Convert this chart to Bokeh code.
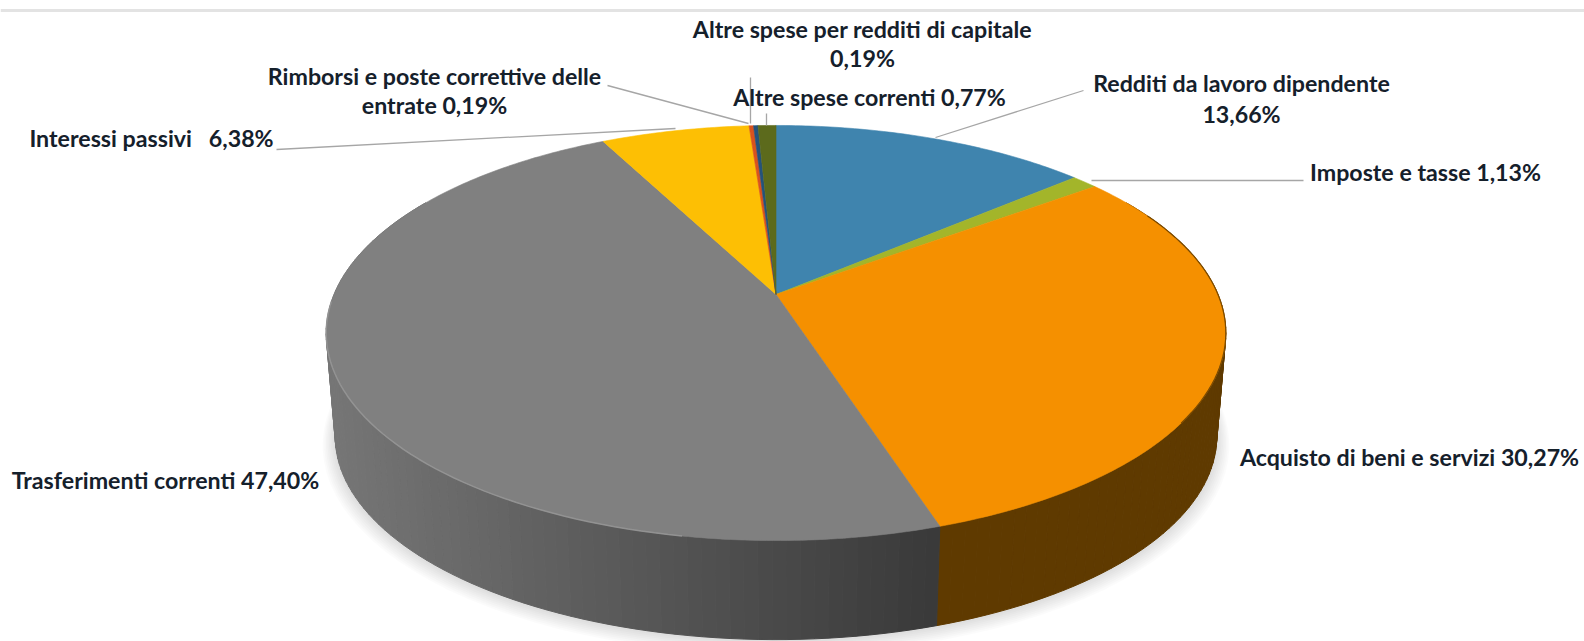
from math import sin, cos, radians, pi
from bokeh.plotting import figure
from bokeh.models import Range1d, ColumnDataSource
from bokeh.core.properties import value
from bokeh.embed import file_html
from bokeh.resources import INLINE

# Data: clockwise from 12 o'clock
categories = ["Redditi da lavoro dipendente", "Imposte e tasse", "Acquisto di beni e servizi",
              "Trasferimenti correnti", "Interessi passivi", "Rimborsi e poste correttive delle entrate",
              "Altre spese per redditi di capitale", "Altre spese correnti"]
shares = [13.66, 1.13, 30.27, 47.40, 6.38, 0.19, 0.19, 0.77]
top_colors = ["#3F84AE", "#A3B52A", "#F59000", "#808080", "#FDBF04", "#D9531E", "#25537C", "#5C6A1C"]

# Label lines (text, x, y, align)
label_text = ["Altre spese per redditi di capitale", "0,19%", "Altre spese correnti 0,77%",
              "Rimborsi e poste correttive delle", "entrate 0,19%", "Interessi passivi\u00a0\u00a0 6,38%",
              "Redditi da lavoro dipendente", "13,66%", "Imposte e tasse 1,13%",
              "Acquisto di beni e servizi 30,27%", "Trasferimenti correnti 47,40%"]
label_x = [862, 862, 869, 434, 434, 151, 1241, 1241, 1425, 1409, 165]
label_y = [28.5, 57.5, 96, 75, 104, 137.5, 82.5, 113.5, 171, 456.5, 479]

# Leader lines
lead_x = [[607, 748], [750, 750], [766, 766], [1083, 935], [1091, 1303], [276, 675]]
lead_y = [[85, 123], [77, 123], [113, 125], [90, 137], [180, 180], [149, 128]]

# Perspective of the pie
CX, APEX_Y, A, B, K = 775.5, 294.0, 200.4, 442.0, 0.1855
DEPTH, BASE_S = 104.0, 0.98

def top_pt(deg):
    t = radians(deg)
    X, Y = sin(t), cos(t)
    w = 1 + K * Y
    return CX + B * X / w, APEX_Y - A * Y / w

def base_pt(deg, s=BASE_S, dy=DEPTH):
    x, y = top_pt(deg)
    return CX + (x - CX) * s, APEX_Y + dy + (y - APEX_Y) * s

def lerp_hex(c1, c2, f):
    a = [int(c1[i:i + 2], 16) for i in (1, 3, 5)]
    b = [int(c2[i:i + 2], 16) for i in (1, 3, 5)]
    return "#%02x%02x%02x" % tuple(round(u + (v - u) * f) for u, v in zip(a, b))

def frange(a, b, step):
    n = max(1, int(abs(b - a) / step))
    return [a + (b - a) * i / n for i in range(n + 1)]

p = figure(width=1584, height=641, x_range=Range1d(0, 1584), y_range=Range1d(641, 0),
           output_backend="svg", toolbar_location=None, min_border=0,
           x_axis_location=None, y_axis_location=None, background_fill_color="white",
           border_fill_color="white", outline_line_color=None)
p.grid.visible = False

# header rule
p.segment([0], [10], [1584], [10], line_color="#E3E3E3", line_width=3)

# soft shadow
for j in range(8, 0, -1):
    pts = [base_pt(d, BASE_S + j * 0.0035, DEPTH + 1 + j * 0.9) for d in frange(0, 360, 3)]
    p.patch([q[0] for q in pts], [q[1] for q in pts], fill_color="#000000", fill_alpha=0.014, line_color=None)

# side wall
bounds = [0.0]
for s in shares:
    bounds.append(bounds[-1] + s / sum(shares) * 360)

side_xs, side_ys, side_cols = [], [], []
for i, (a, b) in enumerate(zip(bounds[:-1], bounds[1:])):
    lo, hi = max(a, 60), min(b, 300)
    if hi <= lo:
        continue
    ds = frange(lo, hi, 1.5)
    for d0, d1 in zip(ds[:-1], ds[1:]):
        t0, t1 = top_pt(d0), top_pt(d1)
        b0, b1 = base_pt(d0), base_pt(d1)
        side_xs.append([t0[0], t1[0], b1[0], b0[0]])
        side_ys.append([t0[1], t1[1], b1[1], b0[1]])
        if i == 3:
            f = (939 - (t0[0] + t1[0]) / 2) / (939 - 326)
            side_cols.append(lerp_hex("#393939", "#767676", min(1, max(0, f))))
        else:
            side_cols.append("#5F3A00")
p.patches(side_xs, side_ys, fill_color=side_cols, line_color=side_cols, line_width=1)

# top face
tx, ty = [], []
for a, b in zip(bounds[:-1], bounds[1:]):
    pts = [top_pt(d) for d in frange(a, b, 0.75)]
    tx.append([CX] + [q[0] for q in pts])
    ty.append([APEX_Y] + [q[1] for q in pts])
p.patches(tx, ty, fill_color=top_colors, line_color=top_colors, line_width=0.6)

# rim highlights
rim = [top_pt(d) for d in frange(190, 268, 1.5)]
p.line([q[0] for q in rim], [q[1] for q in rim], line_color="#989898", line_width=1.5, line_alpha=0.8)
rim2 = [top_pt(d) for d in frange(65, 125, 1.5)]
p.line([q[0] for q in rim2], [q[1] for q in rim2], line_color="#7A4A00", line_width=1.2)

# leaders
p.multi_line(lead_x, lead_y, line_color="#A6A6A6", line_width=1.3)

# labels
src = ColumnDataSource(dict(x=label_x, y=label_y, t=label_text))
p.text("x", "y", text="t", source=src, text_font=value("Lato"), text_font_style="bold",
       text_font_size="23.2px", text_color="#15202B", text_align="center", text_baseline="middle")

open("out.html", "w").write(file_html(p, INLINE))
